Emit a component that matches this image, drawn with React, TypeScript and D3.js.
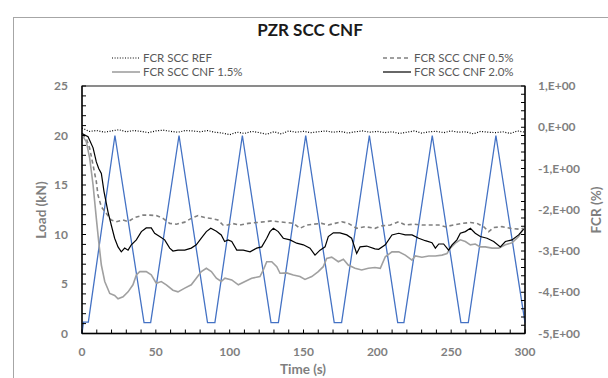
import React from "react";
import * as d3 from "d3";

const title = "PZR SCC CNF";
const xTicks = [0, 50, 100, 150, 200, 250, 300];
const loadTicks = [0, 5, 10, 15, 20, 25];
const fcrTicks = [1, 0, -1, -2, -3, -4, -5];
const fcrTickLabels = ["1,E+00", "0,E+00", "-1,E+00", "-2,E+00", "-3,E+00", "-4,E+00", "-5,E+00"];

// Load (kN) vs time (s)
const loadSeries: [number, number][] = [
  [0, 0], [1, 1.15], [4.3, 1.15], [22.3, 20], [42, 1.1], [46.5, 1.1], [65.7, 20],
  [85, 1.1], [90, 1.1], [108.6, 20], [128, 1.1], [133, 1.1], [151.5, 20],
  [170.8, 1.1], [175.8, 1.1], [194.6, 20], [213.8, 1.1], [218, 1.1], [237.2, 20],
  [256.6, 1.1], [261.6, 1.1], [280.3, 20], [300, 1.1],
];

// FCR (%) series
const refTime = [0,5,10,15,20,25,30,35,40,45,50,55,60,65,70,75,80,85,90,95,100,105,110,115,120,125,130,135,140,145,150,155,160,165,170,175,180,185,190,195,200,205,210,215,220,225,230,235,240,245,250,255,260,265,270,275,280,285,290,295,300];
const refFcr = [-0.02,-0.1,-0.08,-0.12,-0.09,-0.06,-0.11,-0.08,-0.1,-0.13,-0.09,-0.07,-0.1,-0.12,-0.08,-0.09,-0.11,-0.08,-0.12,-0.14,-0.18,-0.12,-0.15,-0.1,-0.13,-0.17,-0.11,-0.16,-0.09,-0.12,-0.1,-0.13,-0.11,-0.09,-0.12,-0.1,-0.14,-0.11,-0.09,-0.12,-0.1,-0.13,-0.11,-0.15,-0.12,-0.09,-0.14,-0.11,-0.1,-0.13,-0.09,-0.12,-0.11,-0.16,-0.1,-0.12,-0.13,-0.11,-0.15,-0.09,-0.12];

const cnf05: [number, number][] = [
  [0,-0.17],[2.9,-0.27],[5.2,-0.51],[7.5,-0.92],[9.7,-1.32],[10.8,-1.64],[13.1,-1.93],[16.5,-2.09],
  [19.8,-2.25],[23.2,-2.29],[27.8,-2.25],[31.2,-2.29],[35.7,-2.19],[41.3,-2.13],[45.9,-2.13],[50.3,-2.14],
  [54.9,-2.21],[59.4,-2.33],[63.9,-2.35],[69.6,-2.3],[74,-2.21],[78.6,-2.14],[83.1,-2.19],[87.6,-2.21],
  [92.1,-2.25],[95.5,-2.37],[98.9,-2.37],[101.4,-2.33],[107,-2.37],[112.6,-2.33],[118.3,-2.31],[123.9,-2.29],
  [128.5,-2.27],[132.9,-2.29],[138.6,-2.31],[143.1,-2.33],[147.6,-2.45],[152.2,-2.37],[156.6,-2.35],[162.3,-2.33],
  [166.8,-2.37],[171.3,-2.33],[175.9,-2.29],[180.3,-2.33],[186,-2.45],[191.6,-2.41],[198.4,-2.45],[203.2,-2.39],
  [208.8,-2.37],[214.5,-2.29],[218.9,-2.37],[224.6,-2.35],[230.2,-2.37],[235.9,-2.37],[241.6,-2.37],[246,-2.41],
  [251.7,-2.37],[257.3,-2.33],[263,-2.31],[267.5,-2.33],[272,-2.41],[275.4,-2.53],[278.8,-2.43],[284.4,-2.41],
  [290,-2.45],[295.7,-2.47],[299.1,-2.45],
];

const cnf15: [number, number][] = [
  [0,-0.19],[2.9,-0.35],[5.2,-0.75],[7.5,-1.4],[9.7,-2.21],[11.3,-2.77],[13.1,-3.34],[15.4,-3.74],
  [18.8,-4.03],[22.1,-4.08],[24.4,-4.16],[27.8,-4.11],[31.2,-3.99],[34.5,-3.82],[36.8,-3.58],[39.1,-3.5],
  [43.5,-3.5],[46.9,-3.58],[50.3,-3.78],[53.7,-3.74],[57.1,-3.82],[61.6,-3.95],[65,-3.99],[69.6,-3.9],
  [74,-3.82],[77.4,-3.66],[80.8,-3.5],[84.2,-3.42],[87.6,-3.5],[91,-3.66],[94.3,-3.74],[96.8,-3.66],
  [101.4,-3.7],[105.9,-3.82],[110.4,-3.74],[114.9,-3.66],[120.5,-3.62],[122.8,-3.46],[125.1,-3.26],[128.5,-3.26],
  [131.9,-3.38],[134.1,-3.54],[138.6,-3.53],[143.1,-3.58],[147.6,-3.62],[151,-3.69],[155.6,-3.62],[160,-3.5],
  [163.4,-3.38],[165.7,-3.18],[169.1,-3.15],[173.6,-3.26],[177,-3.2],[180.3,-3.34],[184.9,-3.42],[189.4,-3.46],
  [193.9,-3.42],[198.4,-3.4],[202,-3.42],[205.4,-3.14],[209.9,-3.02],[214.5,-3.02],[218.9,-3.1],[223.5,-3.22],
  [225.7,-3.12],[230.2,-3.15],[234.8,-3.12],[239.3,-3.12],[243.8,-3.1],[247.2,-3.06],[249.4,-2.93],[252.8,-2.81],
  [256.2,-2.73],[259.6,-2.77],[263,-2.85],[266.3,-2.83],[269.7,-2.9],[273.1,-2.9],[277.7,-2.93],[282.2,-2.93],
  [286.7,-2.85],[291.2,-2.8],[295.7,-2.65],[299.1,-2.45],
];

const cnf20: [number, number][] = [
  [0,-0.15],[4.1,-0.23],[7.5,-0.5],[9.7,-0.84],[11.3,-1.0],[13.1,-1.12],[14.9,-1.56],[17.6,-2.05],
  [19.8,-2.37],[22.1,-2.69],[24.4,-2.9],[26.6,-3.02],[28.9,-2.93],[31.2,-2.98],[33.4,-2.85],[36.8,-2.73],
  [40.2,-2.53],[43.5,-2.44],[46.9,-2.44],[49.2,-2.57],[52.6,-2.65],[56,-2.73],[59.4,-2.93],[61.6,-3.0],
  [65,-2.98],[69.6,-2.98],[74,-2.93],[77.4,-2.85],[80.8,-2.69],[84.2,-2.53],[87.2,-2.45],[91,-2.52],
  [94.3,-2.61],[96.6,-2.77],[98.9,-2.73],[101.4,-2.77],[104.8,-2.98],[109.2,-2.98],[113.8,-3.02],[118.3,-2.93],
  [121.7,-2.9],[125.1,-2.69],[127.3,-2.53],[129.6,-2.45],[132.9,-2.53],[136.3,-2.69],[140.9,-2.73],[145.4,-2.81],
  [149.9,-2.85],[154.4,-2.93],[157.8,-3.1],[161.2,-2.98],[164.6,-2.9],[166.8,-2.65],[170.2,-2.56],[174.7,-2.56],
  [179.3,-2.61],[182.6,-2.69],[186,-3.06],[188.3,-2.9],[192.8,-2.88],[198.4,-2.95],[200.9,-2.96],[205.4,-2.85],
  [209.9,-2.61],[214.5,-2.57],[218.9,-2.61],[223.5,-2.61],[228,-2.69],[232.5,-2.75],[237,-2.8],[239.3,-2.93],
  [241.6,-2.83],[244.9,-2.83],[248.3,-2.98],[250.6,-2.85],[253.9,-2.73],[256.2,-2.57],[259.6,-2.53],[263,-2.45],
  [266.3,-2.57],[269.7,-2.65],[274.3,-2.69],[278.8,-2.77],[283.3,-2.9],[286.7,-2.77],[291.2,-2.73],[295.7,-2.61],
  [299.1,-2.47],
];

const legendItems = [
  { label: "FCR SCC REF", key: "ref" },
  { label: "FCR SCC CNF 0.5%", key: "c05" },
  { label: "FCR SCC CNF 1.5%", key: "c15" },
  { label: "FCR SCC CNF 2.0%", key: "c20" },
];

const W = 608, H = 378;
const FONT = "Lato, 'Open Sans', sans-serif";
const GRAY = "#7f7f7f";

export default function App() {
  const x = d3.scaleLinear().domain([0, 300]).range([82, 525]);
  const yL = d3.scaleLinear().domain([0, 25]).range([333.5, 86]);
  const yR = d3.scaleLinear().domain([-5, 1]).range([333.5, 86]);

  const loadLine = d3.line<[number, number]>().x(d => x(d[0])).y(d => yL(d[1]));
  const fcrLine = d3.line<[number, number]>().x(d => x(d[0])).y(d => yR(d[1]));
  const refPairs: [number, number][] = refTime.map((t, i) => [t, refFcr[i]]);

  const styles: Record<string, any> = {
    ref: { stroke: "#000", strokeWidth: 1.2, dash: "1,1.6" },
    c05: { stroke: "#808080", strokeWidth: 1.6, dash: "4,3" },
    c15: { stroke: "#a0a0a0", strokeWidth: 1.6, dash: undefined },
    c20: { stroke: "#000", strokeWidth: 1.2, dash: undefined },
  };

  const minorL = d3.range(0, 26, 1);
  const minorX = d3.range(0, 301, 10);
  const minorR = d3.range(-5, 1.001, 0.2);

  const legendPos = [
    { x: 112, y: 58 }, { x: 383, y: 58 },
    { x: 112, y: 72 }, { x: 383, y: 72 },
  ];

  return (
    <svg width={W} height={H} style={{ position: "absolute", left: 0, top: 0 }}>
      <rect x={0} y={0} width={W} height={H} fill="#fff" />
      <rect x={13.5} y={17.5} width={640} height={420} fill="none" stroke="#a6a6a6" strokeWidth={1} />
      <text x={310} y={36} textAnchor="middle" fontFamily={FONT} fontWeight="bold" fontSize={17} fill="#1a1a1a">{title}</text>

      {legendItems.map((it, i) => {
        const p = legendPos[i];
        const s = styles[it.key];
        return (
          <g key={it.key}>
            <line x1={p.x} x2={p.x + 28} y1={p.y} y2={p.y} stroke={s.stroke} strokeWidth={s.strokeWidth} strokeDasharray={s.dash} />
            <text x={p.x + 31} y={p.y + 4} fontFamily={FONT} fontSize={11.5} fill="#595959">{it.label}</text>
          </g>
        );
      })}

      {/* plot area frame */}
      <rect x={82} y={86} width={443} height={247.5} fill="none" stroke="#404040" strokeWidth={1.2} />

      {/* load line */}
      <path d={loadLine(loadSeries) || ""} fill="none" stroke="#4472c4" strokeWidth={1.3} />

      {/* FCR lines */}
      <path d={fcrLine(refPairs) || ""} fill="none" stroke={styles.ref.stroke} strokeWidth={styles.ref.strokeWidth} strokeDasharray={styles.ref.dash} />
      <path d={fcrLine(cnf05) || ""} fill="none" stroke={styles.c05.stroke} strokeWidth={styles.c05.strokeWidth} strokeDasharray={styles.c05.dash} />
      <path d={fcrLine(cnf15) || ""} fill="none" stroke={styles.c15.stroke} strokeWidth={styles.c15.strokeWidth} />
      <path d={fcrLine(cnf20) || ""} fill="none" stroke={styles.c20.stroke} strokeWidth={styles.c20.strokeWidth} />

      {/* axes */}
      <line x1={82} x2={82} y1={86} y2={333.5} stroke="#000" strokeWidth={1.3} />
      <line x1={525} x2={525} y1={86} y2={333.5} stroke="#000" strokeWidth={1.3} />
      <line x1={82} x2={525} y1={333.5} y2={333.5} stroke="#000" strokeWidth={1.3} />
      {minorL.map(v => (
        <line key={"l" + v} x1={82} x2={86} y1={yL(v)} y2={yL(v)} stroke="#000" strokeWidth={1} />
      ))}
      {minorR.map((v, i) => (
        <line key={"r" + i} x1={521} x2={525} y1={yR(v)} y2={yR(v)} stroke="#000" strokeWidth={1} />
      ))}
      {minorX.map(v => (
        <line key={"x" + v} x1={x(v)} x2={x(v)} y1={333.5} y2={329.5} stroke="#000" strokeWidth={1} />
      ))}

      {loadTicks.map(v => (
        <text key={"lt" + v} x={68} y={yL(v) + 4} textAnchor="end" fontFamily={FONT} fontWeight="bold" fontSize={12} fill={GRAY}>{v}</text>
      ))}
      {fcrTicks.map((v, i) => (
        <text key={"rt" + v} x={538} y={yR(v) + 4} textAnchor="start" fontFamily={FONT} fontWeight="bold" fontSize={12} fill={GRAY}>{fcrTickLabels[i]}</text>
      ))}
      {xTicks.map(v => (
        <text key={"xt" + v} x={x(v)} y={356} textAnchor="middle" fontFamily={FONT} fontWeight="bold" fontSize={12} fill={GRAY}>{v}</text>
      ))}

      <text x={303} y={374} textAnchor="middle" fontFamily={FONT} fontWeight="bold" fontSize={13.5} fill={GRAY}>Time (s)</text>
      <text transform="translate(46,210) rotate(-90)" textAnchor="middle" fontFamily={FONT} fontWeight="bold" fontSize={13.5} fill={GRAY}>Load (kN)</text>
      <text transform="translate(601,210) rotate(-90)" textAnchor="middle" fontFamily={FONT} fontWeight="bold" fontSize={13.5} fill={GRAY}>FCR (%)</text>
    </svg>
  );
}
